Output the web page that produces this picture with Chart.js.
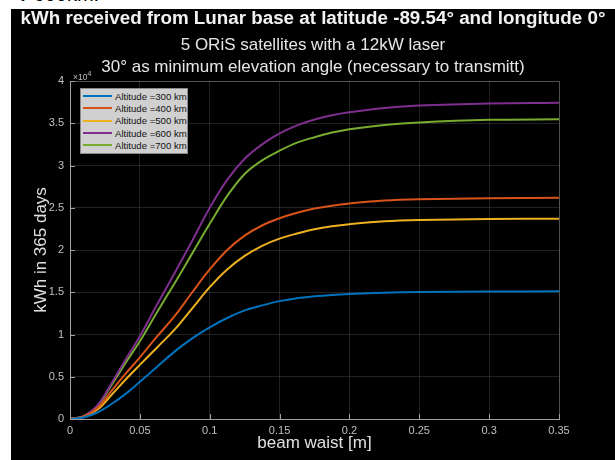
<!DOCTYPE html>
<html lang="en">

<head>
    <meta charset="UTF-8">
    <title>kWh received from Lunar base</title>
    <script src="https://cdn.jsdelivr.net/npm/chart.js"></script>
    <style>
        body { margin: 0; background: #fff; font-family: "Liberation Sans", Arial, sans-serif; }
        #page { position: relative; width: 615px; height: 460px; overflow: hidden; }
        #cut { position: absolute; left: 18px; top: -17px; font-size: 20px; color: #000; }
        #frame { position: absolute; left: 11px; top: 9px; width: 604px; height: 451px; background: #000; }
        .head { position: absolute; left: 0; width: 604px; text-align: center; color: #e6e6e6; white-space: nowrap; line-height: 20px; }
        #t1 { top: -1px; font-size: 18.8px; font-weight: bold; color: #f2f2f2; }
        #t2 { top: 26px; font-size: 17px; }
        #t3 { top: 48px; font-size: 17px; }
        #exp { position: absolute; left: 62px; top: 61px; font-size: 8.5px; color: #bdbdbd; }
        #legend { position: absolute; left: 69px; top: 79px; width: 106px; background: #d0d0d0; border: 1px solid #8a8a8a; padding: 1px 0 2px 0; }
        .item { display: flex; align-items: center; height: 12.3px; font-size: 9.6px; color: #111; }
        .item span.sw { display: inline-block; width: 29px; height: 2px; margin: 0 3px 0 2px; }
        canvas { position: absolute; left: 0; top: 0; }
    </style>
</head>

<body>
    <div id="page">
        <div id="cut">v 600km.</div>
        <div id="frame">
            <canvas id="chart" width="604" height="451"></canvas>
            <div class="head" id="t1">kWh received from Lunar base at latitude -89.54° and longitude 0°</div>
            <div class="head" id="t2">5 ORiS satellites with a 12kW laser</div>
            <div class="head" id="t3">30° as minimum elevation angle (necessary to transmitt)</div>
            <div id="exp">×10<sup>4</sup></div>
            <div id="legend"></div>
        </div>
    </div>

    <script>
        // beam waist [m]
        const waist = [0, 0.01, 0.02, 0.03, 0.04, 0.05, 0.0625, 0.075, 0.0875, 0.1, 0.1125, 0.125, 0.1375, 0.15, 0.1625, 0.175, 0.1875, 0.2, 0.225, 0.25, 0.3, 0.35];

        // kWh in 365 days (x10^4), one list per altitude
        const alt300 = [0, 0.02, 0.08, 0.18, 0.30, 0.44, 0.62, 0.80, 0.955, 1.085, 1.195, 1.285, 1.345, 1.395, 1.43, 1.452, 1.468, 1.479, 1.494, 1.502, 1.509, 1.511];
        const alt400 = [0, 0.03, 0.135, 0.34, 0.54, 0.73, 0.98, 1.22, 1.50, 1.77, 2.00, 2.17, 2.29, 2.375, 2.44, 2.49, 2.525, 2.55, 2.585, 2.60, 2.613, 2.619];
        const alt500 = [0, 0.028, 0.115, 0.29, 0.47, 0.64, 0.85, 1.06, 1.31, 1.56, 1.77, 1.93, 2.05, 2.135, 2.195, 2.245, 2.28, 2.305, 2.34, 2.355, 2.366, 2.370];
        const alt600 = [0, 0.035, 0.17, 0.43, 0.71, 0.98, 1.36, 1.73, 2.11, 2.50, 2.83, 3.08, 3.25, 3.38, 3.475, 3.545, 3.595, 3.63, 3.68, 3.71, 3.735, 3.743];
        const alt700 = [0, 0.035, 0.16, 0.41, 0.67, 0.92, 1.27, 1.61, 1.96, 2.31, 2.64, 2.90, 3.06, 3.175, 3.27, 3.335, 3.39, 3.43, 3.48, 3.51, 3.54, 3.547];

        const seriesNames = ['Altitude =300 km', 'Altitude =400 km', 'Altitude =500 km', 'Altitude =600 km', 'Altitude =700 km'];
        const seriesValues = [alt300, alt400, alt500, alt600, alt700];
        const colors = ['#0072BD', '#D95319', '#EDB120', '#7E2F8E', '#77AC30'];

        const xTicks = [0, 0.05, 0.1, 0.15, 0.2, 0.25, 0.3, 0.35];
        const yTicks = [0, 0.5, 1, 1.5, 2, 2.5, 3, 3.5, 4];

        const datasets = seriesValues.map((vals, i) => ({
            label: seriesNames[i],
            data: vals.map((v, j) => ({ x: waist[j], y: v })),
            borderColor: colors[i],
            borderWidth: 2,
            pointRadius: 0,
            fill: false,
            tension: 0.35
        }));

        // legend box (html, built from the series)
        document.getElementById('legend').innerHTML = seriesNames.map((n, i) =>
            `<div class="item"><span class="sw" style="background:${colors[i]}"></span>${n}</div>`
        ).join('');

        // inward tick marks + box edges, like the original plot
        const boxTicks = {
            id: 'boxTicks',
            afterDraw(chart) {
                const { ctx, chartArea: a, scales: { x, y } } = chart;
                ctx.save();
                ctx.strokeStyle = 'rgba(255,255,255,0.22)';
                ctx.lineWidth = 1;
                ctx.beginPath();
                ctx.moveTo(a.left, a.top + 0.5); ctx.lineTo(a.right + 0.5, a.top + 0.5);
                ctx.lineTo(a.right + 0.5, a.bottom);
                ctx.stroke();
                ctx.strokeStyle = '#a0a0a0';
                ctx.beginPath();
                xTicks.forEach(t => {
                    const px = Math.round(x.getPixelForValue(t)) + 0.5;
                    ctx.moveTo(px, a.bottom); ctx.lineTo(px, a.bottom - 5);
                });
                yTicks.forEach(t => {
                    const py = Math.round(y.getPixelForValue(t)) + 0.5;
                    ctx.moveTo(a.left, py); ctx.lineTo(a.left + 5, py);
                });
                ctx.stroke();
                ctx.restore();
            }
        };

        const tickFont = { family: '"Liberation Sans", Arial, sans-serif', size: 11 };
        const titleFont = { family: '"Liberation Sans", Arial, sans-serif', size: 17 };

        new Chart(document.getElementById('chart'), {
            type: 'line',
            data: { datasets },
            plugins: [boxTicks],
            options: {
                responsive: false,
                animation: false,
                layout: { padding: { top: 72, right: 56, left: 0, bottom: 0 } },
                plugins: { legend: { display: false }, tooltip: { enabled: false } },
                scales: {
                    x: {
                        type: 'linear', min: 0, max: 0.35,
                        afterBuildTicks: s => { s.ticks = xTicks.map(v => ({ value: v })); },
                        afterFit: s => { s.height = 41; },
                        grid: { color: 'rgba(255,255,255,0.13)', drawTicks: false },
                        border: { color: '#a0a0a0' },
                        ticks: { color: '#c0c0c0', font: tickFont, padding: 5, maxRotation: 0, callback: v => String(v) },
                        title: { display: true, text: 'beam waist [m]', color: '#e0e0e0', font: titleFont, padding: { top: 0, bottom: 6 } }
                    },
                    y: {
                        min: 0, max: 4,
                        afterBuildTicks: s => { s.ticks = yTicks.map(v => ({ value: v })); },
                        afterFit: s => { s.width = 59; },
                        grid: { color: 'rgba(255,255,255,0.13)', drawTicks: false },
                        border: { color: '#a0a0a0' },
                        ticks: { color: '#c0c0c0', font: tickFont, padding: 6, callback: v => String(v) },
                        title: { display: true, text: 'kWh in 365 days', color: '#e0e0e0', font: titleFont, padding: { top: 20, bottom: 0 } }
                    }
                }
            }
        });
    </script>
</body>

</html>
